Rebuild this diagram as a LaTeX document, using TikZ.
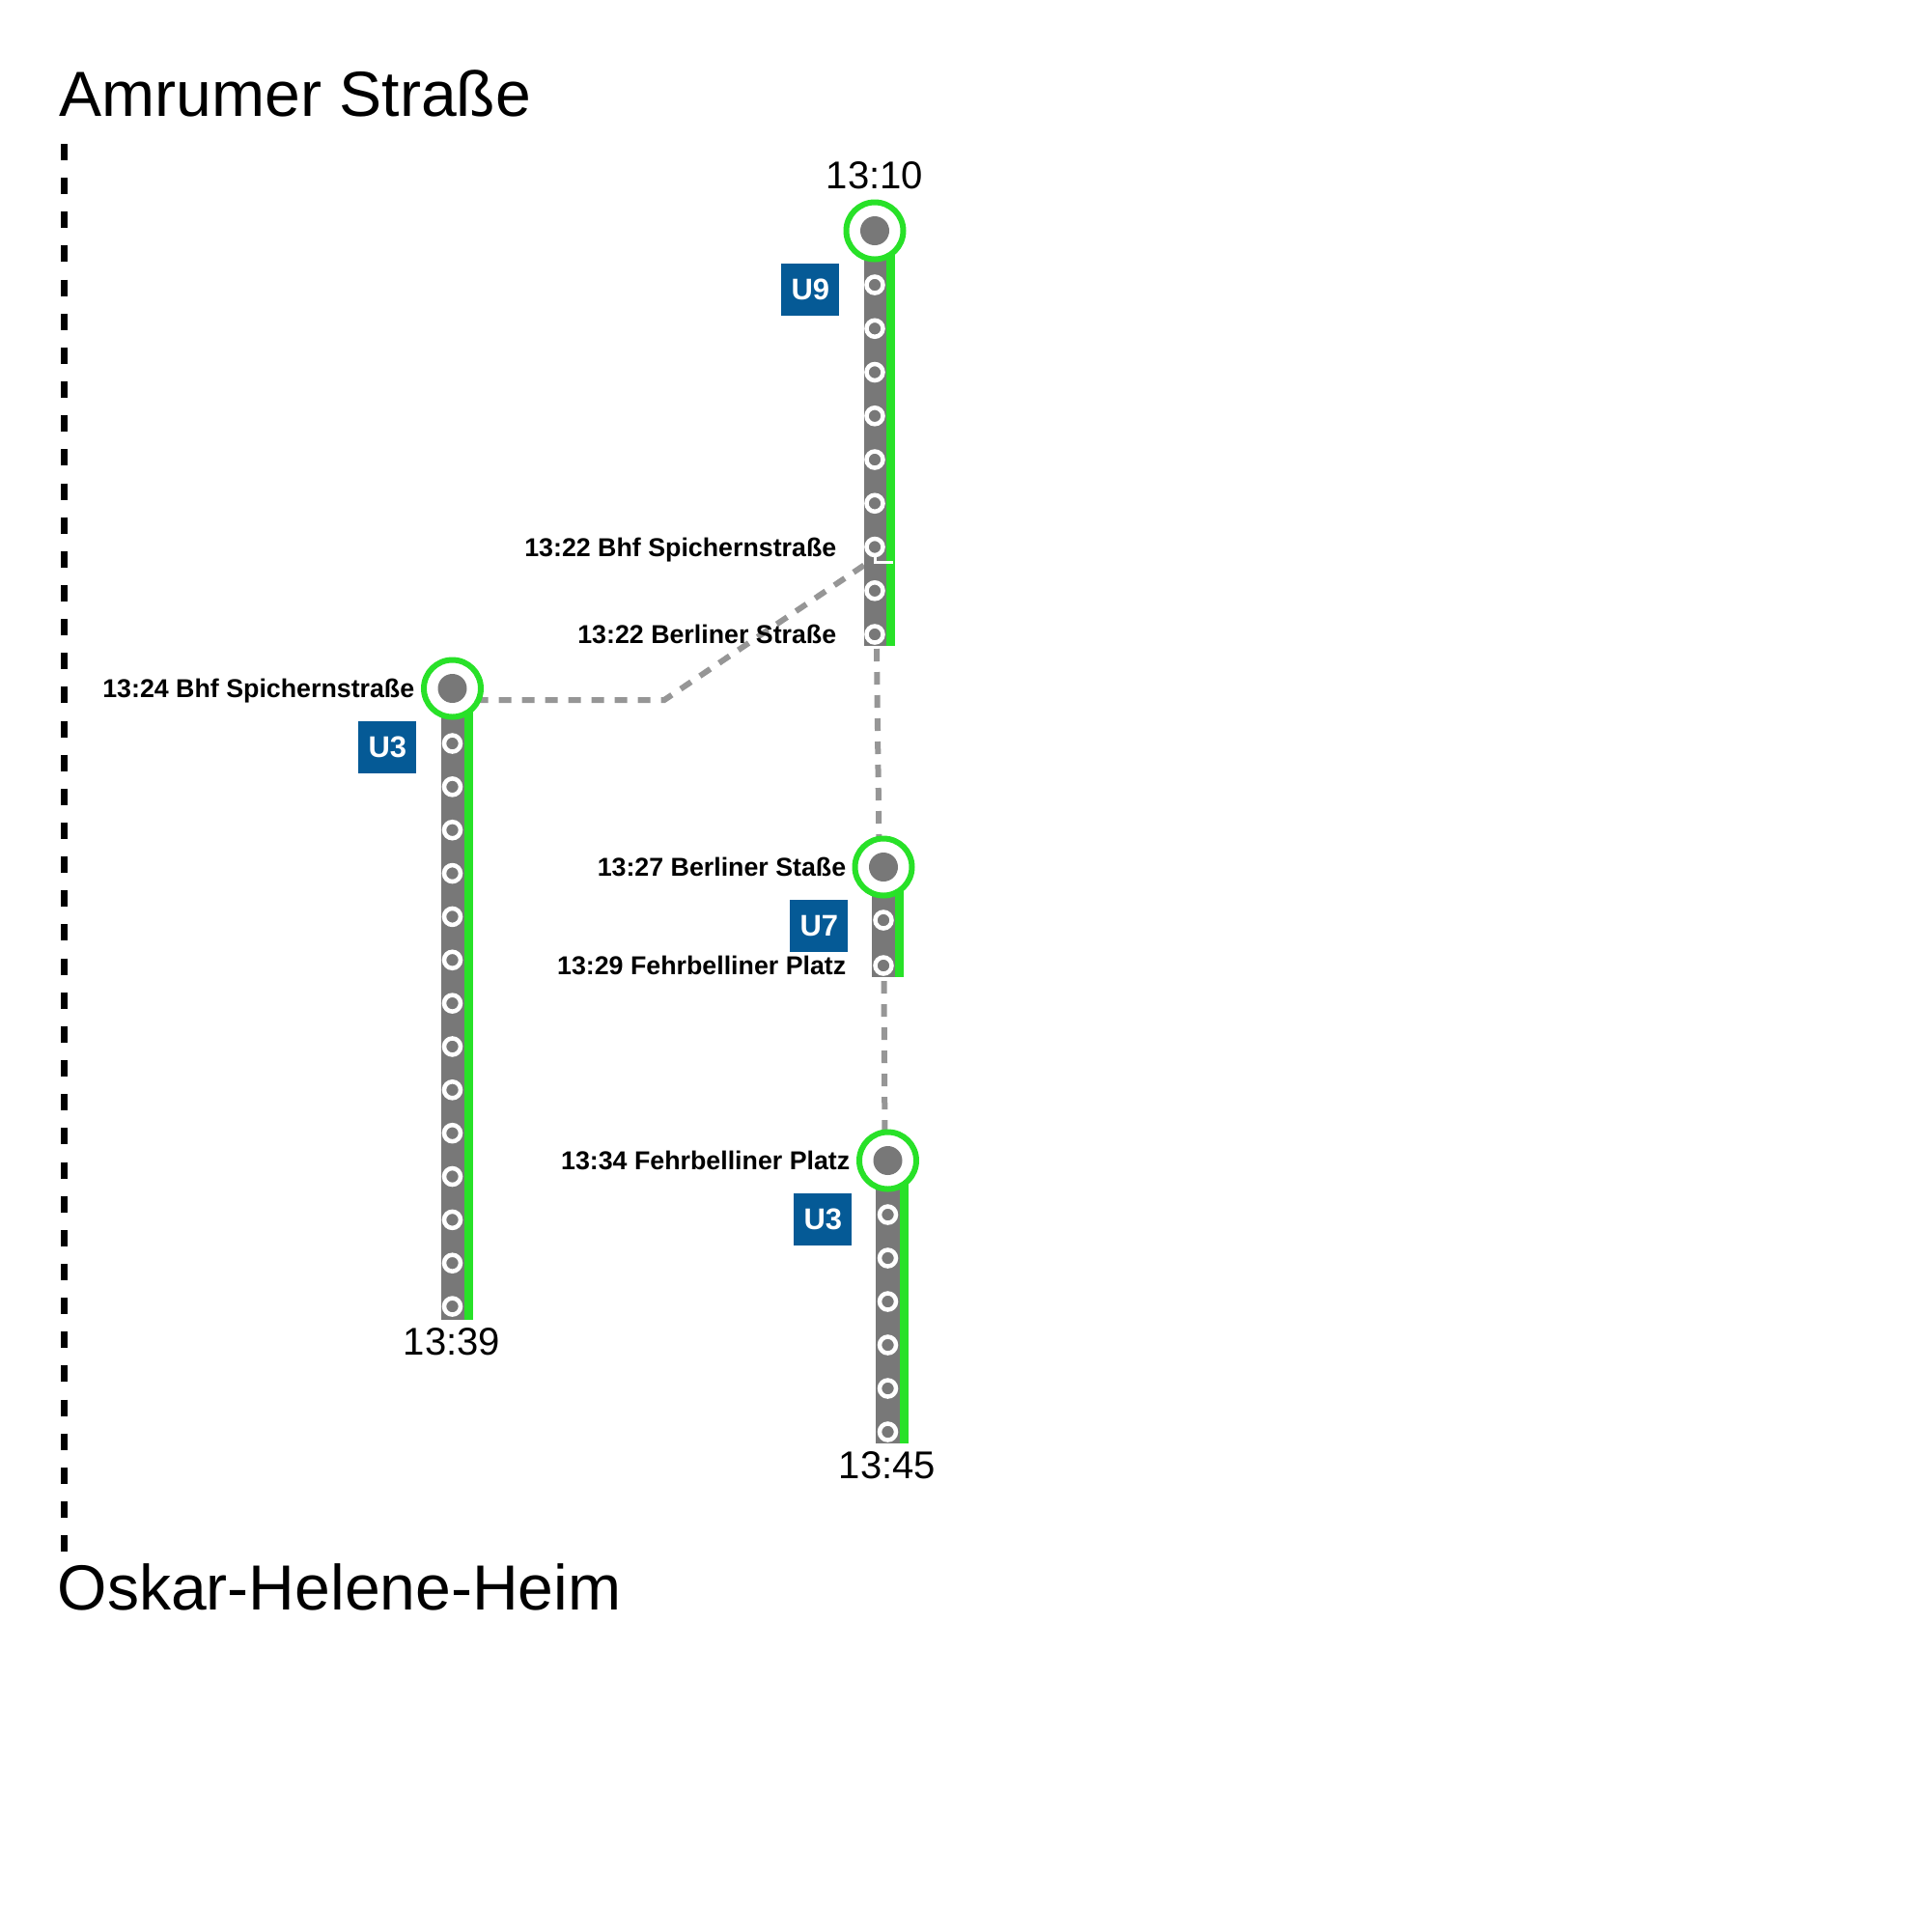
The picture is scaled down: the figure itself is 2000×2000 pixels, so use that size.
\documentclass[tikz,border=0pt]{standalone}
\usepackage{fontspec}
\setmainfont{Liberation Sans}
\usetikzlibrary{calc}
\definecolor{lgreen}{RGB}{40,225,40}
\definecolor{bargrey}{RGB}{120,120,120}
\definecolor{trgrey}{RGB}{150,150,150}
\definecolor{ublue}{RGB}{5,90,150}
\begin{document}
\begin{tikzpicture}[x=0.1mm,y=-0.1mm,
  bar/.style={fill=bargrey},
  gline/.style={fill=lgreen},
  bigstop/.style={circle, draw=lgreen, line width=0.6mm, fill=white, minimum size=5.9mm, inner sep=0pt},
  smallstop/.style={circle, draw=white, fill=bargrey, line width=0.45mm, minimum size=1.7mm, inner sep=0pt},
  transfer/.style={draw=trgrey, line width=0.6mm, dash pattern=on 1.3mm off 1.1mm},
  timelbl/.style={font=\fontsize{11.4}{13}\selectfont, inner sep=0pt},
  stoplbl/.style={font=\bfseries\fontsize{7.62}{9}\selectfont, inner sep=0pt},
  ubox/.style={fill=ublue, text=white, font=\bfseries\fontsize{8.8}{10}\selectfont, minimum width=6mm, minimum height=5.4mm, inner sep=0pt},
  endlbl/.style={font=\fontsize{18.8}{22}\selectfont, inner sep=0pt},
  axisline/.style={draw=black, line width=0.7mm, dash pattern=on 1.7mm off 1.815mm}]
\useasboundingbox (0,0) rectangle (2000,2000);

% end stations and axis
\node[endlbl, anchor=base west] (from) at (61,120) {Amrumer Straße};
\node[endlbl, anchor=base west] (to) at (59,1667) {Oskar-Helene-Heim};
\coordinate (d1) at (66,149);
\coordinate (d2) at (66,1607);
\draw[axisline] (d1) -- (d2);

% column coordinates
\coordinate (c9) at (906,239);   \coordinate (e9) at (906,669);
\coordinate (c3a) at (468.5,713); \coordinate (e3a) at (468.5,1367);
\coordinate (c7) at (915,898);   \coordinate (e7) at (915,1012);
\coordinate (c3b) at (919.5,1202); \coordinate (e3b) at (919.5,1495);
\coordinate (k1) at (688,725);
\coordinate (k2) at (900,582);
\coordinate (m1) at (908,672);
\coordinate (m2) at (910.5,880);
\coordinate (n1) at (915.5,1016);
\coordinate (n2) at (916.5,1185);

% transfers
\draw[transfer] (c3a |- k1) -- (k1) -- (k2);
\draw[transfer] (m1) -- (m2);
\draw[transfer] (n1) -- (n2);

% bars
\foreach \c/\e/\l/\r in {c9/e9/11.5/12, c3a/e3a/12/12.5, c7/e7/12/12, c3b/e3b/12.5/12.5}{
  \fill[bar] ($(\c)+(-\l,0)$) rectangle ($(\e)+(\r,0)$);
  \fill[gline] ($(\c)+(\r,0)$) rectangle ($(\e)+(\r+8.5,0)$);
}

% big stops
\node[bigstop] (u9) at (c9) {};
\node[bigstop] (u3a) at (c3a) {};
\node[bigstop] (u7) at (c7) {};
\node[bigstop] (u3b) at (c3b) {};
\foreach \n in {u9,u3a,u7,u3b}{
  \fill[bargrey] (\n.center) circle[radius=1.5mm];
}

% small stops
\foreach \k in {0,...,8}{
  \node[smallstop] (u9s\k) at (906,{295+45.25*\k}) {};
}
\foreach \k in {0,...,13}{
  \node[smallstop] (u3as\k) at (468.5,{770+44.85*\k}) {};
}
\node[smallstop] (u7s0) at (915,953) {};
\node[smallstop] (u7s1) at (915,1000) {};
\foreach \k in {0,...,5}{
  \node[smallstop] (u3bs\k) at (919.5,{1258+45*\k}) {};
}

% white tick at Spichernstrasse
\draw[white, line width=0.3mm] ($(u9s6)+(0,10)$) |- ($(u9s6)+(19,15.5)$);

% line badges
\node[ubox, anchor=north east] (b9) at (870,272.5) {U9};
\node[ubox, anchor=north east] (b3a) at (432,746.5) {U3};
\node[ubox, anchor=north east] (b7) at (879,931.5) {U7};
\node[ubox, anchor=north east] (b3b) at (883,1235.5) {U3};

% times
\node[timelbl, anchor=base] (t1) at (906,195) {13:10};
\node[timelbl, anchor=base] (t2) at (468,1403) {13:39};
\node[timelbl, anchor=base] (t3) at (919,1531) {13:45};

% stop labels
\node[stoplbl, anchor=base east] (l1) at (867,576) {13:22 Bhf Spichernstraße};
\node[stoplbl, anchor=base east] (l2) at (867,666.5) {13:22 Berliner Straße};
\node[stoplbl, anchor=base east] (l3) at (430,722.5) {13:24 Bhf Spichernstraße};
\node[stoplbl, anchor=base east] (l4) at (877,907.5) {13:27 Berliner Staße};
\node[stoplbl, anchor=base east] (l5) at (877,1009.5) {13:29 Fehrbelliner Platz};
\node[stoplbl, anchor=base east] (l6) at (881,1211.5) {13:34 Fehrbelliner Platz};
\end{tikzpicture}
\end{document}
